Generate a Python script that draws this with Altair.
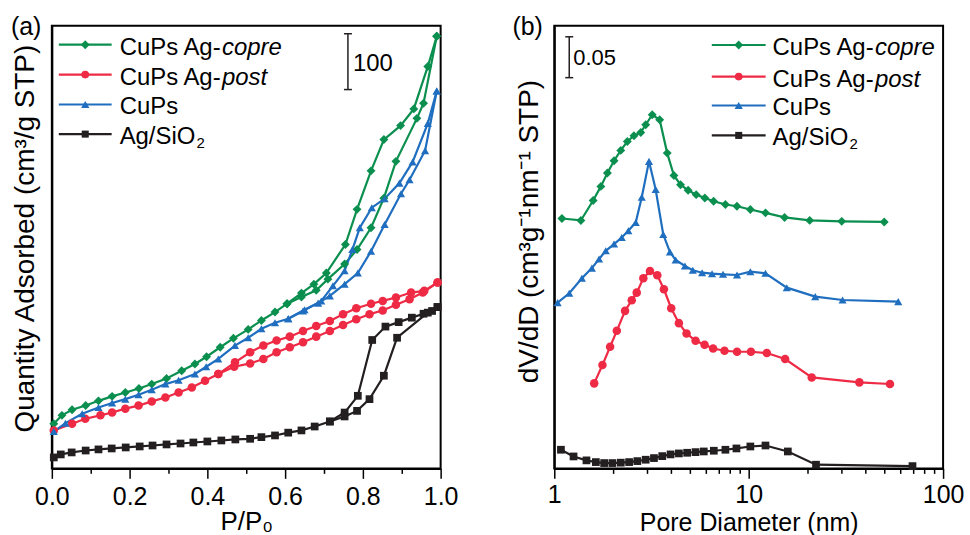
import altair as alt
import pandas as pd

# ---------------- data: panel (a) N2 isotherms (offset, arbitrary units; 100 = scale bar) ----------------
series = ["CuPs Ag-copre", "CuPs Ag-post", "CuPs", "Ag/SiO2"]
colors = ["#0A8F4F", "#EE2A45", "#1F6EBF", "#231F20"]
shapes = ["diamond", "circle", "triangle-up", "square"]
sizes = [80, 60, 70, 50]

copre_ads_p = [0.005, 0.026, 0.052, 0.087, 0.12, 0.155, 0.189, 0.224, 0.257, 0.295, 0.334, 0.368, 0.398,
               0.433, 0.467, 0.505, 0.539, 0.574, 0.605, 0.642, 0.68, 0.71, 0.753, 0.785, 0.821, 0.854,
               0.885, 0.939, 0.956, 0.99]
copre_ads_u = [80, 95, 105, 112.5, 121, 129, 136, 143, 151, 161, 175, 187, 200,
               217, 233, 249, 265, 280, 295, 307, 319, 339, 366, 392, 431, 484,
               550, 627, 654, 774]
copre_des_p = [0.99, 0.967, 0.931, 0.897, 0.854, 0.821, 0.785, 0.755, 0.706, 0.674, 0.642, 0.605]
copre_des_u = [774, 720, 644, 614, 589, 533, 464, 401, 350, 330, 314, 295]

post_ads_p = [0.005, 0.052, 0.086, 0.125, 0.155, 0.189, 0.223, 0.257, 0.292, 0.326, 0.36, 0.394, 0.428,
              0.469, 0.51, 0.544, 0.578, 0.612, 0.646, 0.68, 0.715, 0.749, 0.783, 0.817, 0.851, 0.885,
              0.92, 0.954, 0.992]
post_ads_u = [68, 80, 89, 95, 100, 107, 112.5, 120, 127, 136, 145, 157, 169,
              182, 188, 196, 208, 217, 226, 236, 246, 257, 267, 276, 283, 293,
              303, 315, 333]
post_des_p = [0.992, 0.958, 0.924, 0.885, 0.851, 0.821, 0.783, 0.749, 0.715, 0.68, 0.646, 0.612,
              0.578, 0.544, 0.51, 0.471, 0.428]
post_des_u = [333, 318, 315, 306, 300, 295, 287, 276, 264, 255, 246, 236, 229, 220, 208, 190, 169]

cups_ads_p = [0.005, 0.035, 0.078, 0.12, 0.155, 0.189, 0.223, 0.257, 0.292, 0.326, 0.368, 0.397, 0.428,
              0.471, 0.505, 0.539, 0.574, 0.608, 0.65, 0.685, 0.715, 0.753, 0.787, 0.821, 0.856, 0.898,
              0.92, 0.96, 0.99]
cups_ads_u = [66, 81, 98, 109, 117, 124, 132, 141, 151, 158, 169, 182, 196,
              220, 234, 250, 261, 268, 284, 296, 309, 330, 350, 389, 437, 492,
              517, 569, 676]
cups_des_p = [0.99, 0.967, 0.928, 0.894, 0.856, 0.823, 0.792, 0.773, 0.753, 0.723, 0.693, 0.646, 0.608]
cups_des_u = [676, 618, 549, 511, 483, 467, 431, 392, 354, 327, 300, 282, 268]

agsio_ads_p = [0.005, 0.023, 0.051, 0.087, 0.12, 0.154, 0.19, 0.226, 0.259, 0.295, 0.331, 0.364, 0.40,
               0.436, 0.472, 0.51, 0.539, 0.574, 0.608, 0.642, 0.676, 0.715, 0.753, 0.785, 0.817, 0.854,
               0.888, 0.967, 0.992]
agsio_ads_u = [19.6, 25, 28.6, 32, 34, 35.7, 37.5, 39.3, 41, 42.9, 44.6, 46.4, 48.2,
               50, 51.8, 53, 56, 59, 64, 68, 75, 84, 93, 103, 124, 166,
               234, 279, 289]
agsio_des_p = [0.992, 0.978, 0.956, 0.926, 0.892, 0.858, 0.824, 0.787, 0.753, 0.715]
agsio_des_u = [289, 282, 277, 270, 262, 254, 230, 130, 100, 84]

scale_a = [678.6, 778.6]          # 100 cm3/g scale bar

# ---------------- data: panel (b) pore size distributions (offset) ----------------
copre_d = [1.095, 1.37, 1.585, 1.736, 1.876, 2.03, 2.198, 2.376, 2.57, 2.785, 2.953, 3.19, 3.484, 3.81,
           4.125, 4.46, 4.88, 5.37, 5.95, 6.6, 7.59, 8.7, 10.2, 12.2, 15.3, 20.6, 30.1, 49.8]
copre_v = [0.3057, 0.3033, 0.3277, 0.345, 0.3613, 0.3764, 0.389, 0.4, 0.4069, 0.411, 0.4204, 0.4326,
           0.4265, 0.3857, 0.3583, 0.347, 0.3402, 0.3349, 0.3308, 0.3268, 0.3228, 0.3207, 0.3167,
           0.3126, 0.307, 0.3034, 0.3022, 0.3015]

post_d = [1.604, 1.769, 1.937, 2.097, 2.312, 2.503, 2.655, 2.871, 3.106, 3.387, 3.664, 3.995, 4.375,
          4.79, 5.33, 5.93, 6.56, 7.51, 8.71, 10.27, 12.4, 15.4, 21.1, 37.1, 53.3]
post_v = [0.104, 0.1264, 0.1488, 0.1683, 0.1927, 0.2057, 0.215, 0.2326, 0.2415, 0.2362, 0.2191,
          0.1959, 0.1777, 0.1651, 0.1561, 0.1512, 0.1467, 0.1439, 0.1427, 0.1427, 0.1411, 0.1338,
          0.1113, 0.1052, 0.1032]

cups_d = [1.04, 1.194, 1.387, 1.561, 1.70, 1.84, 2.03, 2.223, 2.404, 2.624, 2.818, 3.07, 3.323, 3.635,
          3.935, 4.21, 4.70, 5.16, 5.76, 6.48, 7.38, 8.71, 10.2, 12.2, 15.7, 22.0, 30.4, 58.8]
cups_v = [0.2028, 0.2142, 0.2325, 0.245, 0.2561, 0.2662, 0.2744, 0.2825, 0.2906, 0.3008, 0.3317,
          0.3756, 0.3411, 0.2862, 0.2646, 0.2549, 0.2476, 0.2423, 0.2394, 0.2382, 0.2374, 0.2366,
          0.2406, 0.2387, 0.2211, 0.2101, 0.206, 0.204]

agsio_d = [1.082, 1.256, 1.464, 1.636, 1.805, 1.99, 2.198, 2.426, 2.674, 2.953, 3.257, 3.593, 3.965,
           4.375, 4.826, 5.33, 5.875, 6.615, 7.59, 8.65, 10.2, 12.2, 15.9, 22.2, 69.6]
agsio_v = [0.0228, 0.0146, 0.0098, 0.0077, 0.0065, 0.0065, 0.007, 0.0077, 0.0089, 0.0106, 0.0126,
           0.015, 0.0171, 0.0183, 0.0191, 0.0199, 0.0207, 0.0216, 0.0228, 0.0244, 0.0268, 0.028,
           0.0207, 0.0045, 0.0028]

scale_b = [0.478, 0.528]          # 0.05 scale bar

# legend texts
legend_main = ["CuPs Ag-", "CuPs Ag-", "CuPs", "Ag/SiO"]
legend_italic = ["copre", "post", "", ""]
legend_sub = ["", "", "", "2"]

FONT = "Liberation Sans"

# ---------------- build tables ----------------
iso_rows = []
for name, ap, au, dp, du in [
    (series[0], copre_ads_p, copre_ads_u, copre_des_p, copre_des_u),
    (series[1], post_ads_p, post_ads_u, post_des_p, post_des_u),
    (series[2], cups_ads_p, cups_ads_u, cups_des_p, cups_des_u),
    (series[3], agsio_ads_p, agsio_ads_u, agsio_des_p, agsio_des_u),
]:
    for i, (p, u) in enumerate(zip(ap, au)):
        iso_rows.append({"series": name, "branch": "ads", "i": i, "P": p, "U": u})
    for i, (p, u) in enumerate(zip(dp, du)):
        iso_rows.append({"series": name, "branch": "des", "i": i, "P": p, "U": u})
iso = pd.DataFrame(iso_rows)

psd_rows = []
for name, dd, vv in [(series[0], copre_d, copre_v), (series[1], post_d, post_v),
                     (series[2], cups_d, cups_v), (series[3], agsio_d, agsio_v)]:
    for i, (d, v) in enumerate(zip(dd, vv)):
        psd_rows.append({"series": name, "i": i, "D": d, "V": v})
psd = pd.DataFrame(psd_rows)

color_enc = alt.Color("series:N", scale=alt.Scale(domain=series, range=colors), legend=None)
shape_enc = alt.Shape("series:N", scale=alt.Scale(domain=series, range=shapes), legend=None)
size_enc = alt.Size("series:N", scale=alt.Scale(domain=series, range=sizes), legend=None)

dummy = alt.Data(values=[{"a": 1}])

W = {"C": 722, "u": 556, "P": 667, "s": 500, " ": 278, "A": 667, "g": 556, "-": 333,
     "/": 278, "S": 667, "i": 222, "O": 778}


def twidth(s, size):
    return sum(W.get(c, 556) for c in s) / 1000.0 * size


def legend_layers(x0, x1, xt, rows, fs=24):
    out = []
    for k in range(4):
        y = rows[k]
        out.append(alt.Chart(dummy).mark_rule(color=colors[k], strokeWidth=2.2).encode(
            x=alt.value(x0), x2=alt.value(x1), y=alt.value(y)))
        out.append(alt.Chart(dummy).mark_point(shape=shapes[k], filled=True, color=colors[k],
                                               size=sizes[k], opacity=1).encode(
            x=alt.value((x0 + x1) / 2), y=alt.value(y)))
        out.append(alt.Chart(dummy).mark_text(align="left", baseline="alphabetic", fontSize=fs,
                                              font=FONT, color="black").encode(
            x=alt.value(xt), y=alt.value(y + 10), text=alt.value(legend_main[k])))
        if legend_italic[k]:
            out.append(alt.Chart(dummy).mark_text(align="left", baseline="alphabetic", fontSize=fs,
                                                  font=FONT, fontStyle="italic", color="black").encode(
                x=alt.value(xt + twidth(legend_main[k], fs)), y=alt.value(y + 10),
                text=alt.value(legend_italic[k])))
        if legend_sub[k]:
            out.append(alt.Chart(dummy).mark_text(align="left", baseline="alphabetic", fontSize=15,
                                                  font=FONT, color="black").encode(
                x=alt.value(xt + twidth(legend_main[k], fs) + 1), y=alt.value(y + 14),
                text=alt.value(legend_sub[k])))
    return out


# ---------------- panel (a) ----------------
xa_axis = alt.Axis(title="P/P₀", values=[round(0.1 * k, 1) for k in range(11)],
                   labelExpr="round(datum.value*10) % 2 === 0 ? format(datum.value, '.1f') : ''",
                   tickSize={"condition": {"test": "round(datum.value*10) % 2 === 0", "value": 10}, "value": 5},
                   labelFlush=False, labelPadding=26, labelBaseline="alphabetic",
                   titleFontSize=26, titleY=61, titleBaseline="alphabetic")
ya_axis = alt.Axis(title="Quantity Adsorbed (cm³/g STP)", labels=False, ticks=False,
                   titleFontSize=28, titleX=-18, titleY=213, titleBaseline="alphabetic",
                   titleAngle=270, titleAlign="center")


def xa(field="P"):
    return alt.X(f"{field}:Q", scale=alt.Scale(domain=[0, 1]), axis=xa_axis)


def ya(field="U"):
    return alt.Y(f"{field}:Q", scale=alt.Scale(domain=[0, 792.9]), axis=ya_axis)


iso_base = alt.Chart(iso)
a_lines = iso_base.mark_line(strokeWidth=2.2).encode(
    x=xa(), y=ya(), color=color_enc, detail="branch:N", order="i:Q")
a_pts = iso_base.mark_point(filled=True, opacity=1).encode(
    x=xa(), y=ya(), color=color_enc, shape=shape_enc, size=size_enc)

sa = pd.DataFrame({"U": [scale_a[0]], "U2": [scale_a[1]]})
sa_caps = pd.DataFrame({"U": scale_a})
a_bar = alt.Chart(sa).mark_rule(color="#231F20", strokeWidth=1.5).encode(
    x=alt.value(297), y=ya(), y2="U2:Q")
a_caps = alt.Chart(sa_caps).mark_rule(color="#231F20", strokeWidth=1.5).encode(
    x=alt.value(293), x2=alt.value(301), y=ya())
a_bar_txt = alt.Chart(dummy).mark_text(align="left", baseline="alphabetic", fontSize=24, font=FONT,
                                       color="black").encode(
    x=alt.value(302), y=alt.value(45), text=alt.value("100"))
a_label = alt.Chart(dummy).mark_text(align="left", baseline="alphabetic", fontSize=25, font=FONT,
                                     color="black").encode(
    x=alt.value(-41), y=alt.value(9), text=alt.value("(a)"))

panel_a = alt.layer(a_lines, a_pts, a_bar, a_caps, a_bar_txt, a_label,
                    *legend_layers(7, 60, 68, [19, 49, 79, 108.7])).properties(width=390, height=444)

# ---------------- panel (b) ----------------
log_vals = [1, 2, 3, 4, 5, 6, 7, 8, 9, 10, 20, 30, 40, 50, 60, 70, 80, 90, 100]
xb_axis = alt.Axis(title="Pore Diameter (nm)", values=log_vals,
                   labelExpr="datum.value === 1 || datum.value === 10 || datum.value === 100 ? format(datum.value, 'd') : ''",
                   tickSize={"condition": {"test": "datum.value === 1 || datum.value === 10 || datum.value === 100",
                                           "value": 10}, "value": 5},
                   labelFlush=False, labelPadding=24, labelBaseline="alphabetic",
                   titleFontSize=25, titleY=62, titleBaseline="alphabetic")
yb_axis = alt.Axis(title="dV/dD (cm³g⁻¹nm⁻¹ STP)", labels=False, ticks=False,
                   titleFontSize=28, titleX=-17, titleY=206, titleBaseline="alphabetic",
                   titleAngle=270, titleAlign="center")


def xb(field="D"):
    return alt.X(f"{field}:Q", scale=alt.Scale(type="log", domain=[1, 100]), axis=xb_axis)


def yb(field="V"):
    return alt.Y(f"{field}:Q", scale=alt.Scale(domain=[0, 0.5415]), axis=yb_axis)


psd_base = alt.Chart(psd)
b_lines = psd_base.mark_line(strokeWidth=2.2).encode(
    x=xb(), y=yb(), color=color_enc, order="i:Q")
b_pts = psd_base.mark_point(filled=True, opacity=1).encode(
    x=xb(), y=yb(), color=color_enc, shape=shape_enc, size=size_enc)

sb = pd.DataFrame({"V": [scale_b[0]], "V2": [scale_b[1]]})
sb_caps = pd.DataFrame({"V": scale_b})
b_bar = alt.Chart(sb).mark_rule(color="#231F20", strokeWidth=1.5).encode(
    x=alt.value(15), y=yb(), y2="V2:Q")
b_caps = alt.Chart(sb_caps).mark_rule(color="#231F20", strokeWidth=1.5).encode(
    x=alt.value(11), x2=alt.value(19), y=yb())
b_bar_txt = alt.Chart(dummy).mark_text(align="left", baseline="alphabetic", fontSize=22, font=FONT,
                                       color="black").encode(
    x=alt.value(19), y=alt.value(39), text=alt.value("0.05"))
b_label = alt.Chart(dummy).mark_text(align="left", baseline="alphabetic", fontSize=25, font=FONT,
                                     color="black").encode(
    x=alt.value(-42), y=alt.value(9), text=alt.value("(b)"))

panel_b = alt.layer(b_lines, b_pts, b_bar, b_caps, b_bar_txt, b_label,
                    *legend_layers(158, 212, 219, [19.3, 51, 80, 110])).properties(width=390, height=444)

chart = alt.hconcat(panel_a, panel_b, spacing=52).properties(
    padding={"left": 10, "top": 13, "right": 5, "bottom": 2}
).configure_view(stroke="black", strokeWidth=2).configure_axis(
    labelFont=FONT, titleFont=FONT, labelFontSize=25, labelColor="black", titleColor="black",
    domainColor="black", domainWidth=2, tickColor="black", tickWidth=1.5, grid=False,
    titleFontWeight="normal"
)

chart.save("out.html", embed_options={"renderer": "svg", "actions": False})
